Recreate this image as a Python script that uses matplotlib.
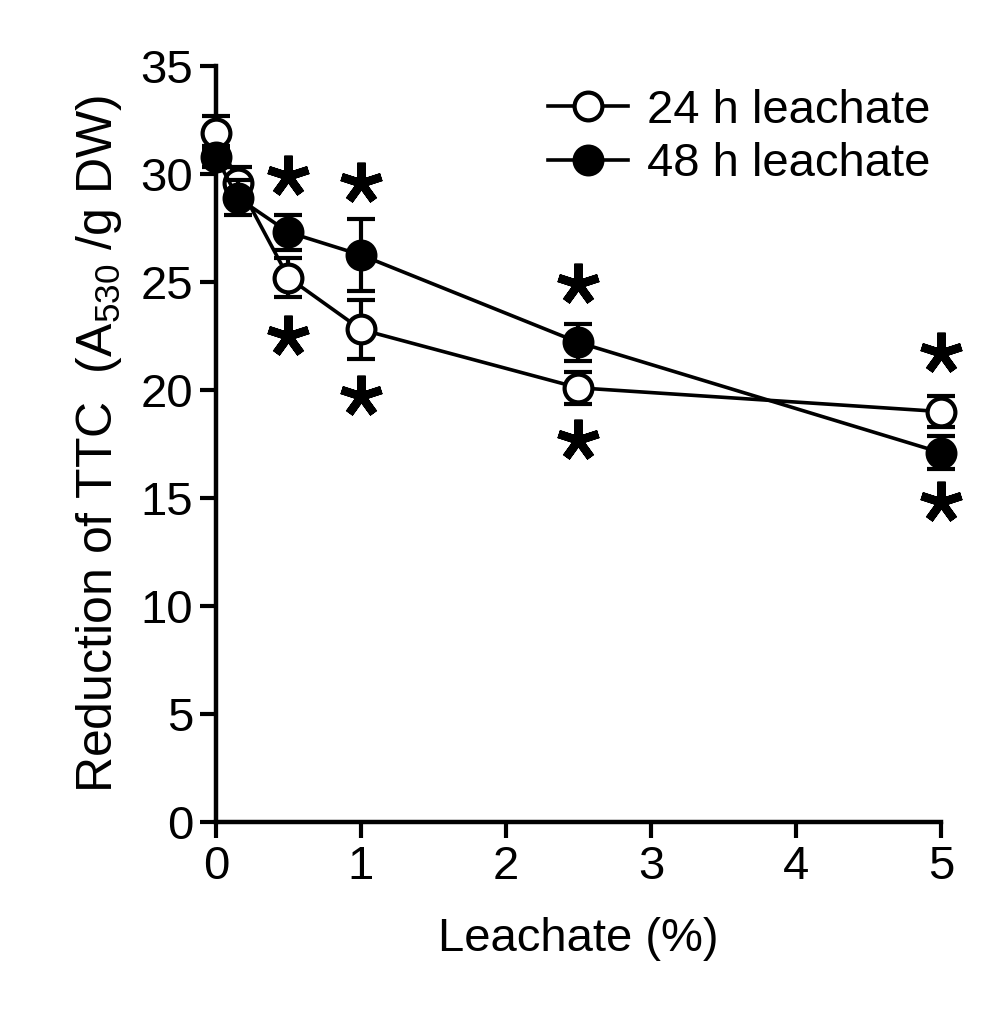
import matplotlib.pyplot as plt
from matplotlib.lines import Line2D

plt.rcParams['font.family'] = ['Liberation Sans', 'DejaVu Sans']
plt.rcParams['mathtext.fontset'] = 'custom'
plt.rcParams['mathtext.rm'] = 'Liberation Sans'
plt.rcParams['mathtext.it'] = 'Liberation Sans'

# data
conc = [0, 0.15, 0.5, 1, 2.5, 5]
h24 = [31.9, 29.6, 25.2, 22.8, 20.1, 19.0]
h24_err = [0.8, 0.7, 0.9, 1.35, 0.75, 0.7]
h48 = [30.8, 28.9, 27.3, 26.25, 22.2, 17.1]
h48_err = [0.5, 0.8, 0.8, 1.65, 0.85, 0.75]

# significance stars (x, y)
star_x = [0.5, 0.5, 1, 1, 2.5, 2.5, 5, 5]
star_y = [29.9, 22.5, 29.6, 19.7, 24.9, 17.7, 21.7, 14.8]

fig = plt.figure(figsize=(9.92, 10.21), dpi=100)
ax = fig.add_axes([0.2177, 0.1949, 0.7309, 0.7405])

common = dict(color='black', lw=2.6, ms=20, mew=3, elinewidth=3,
              capsize=10, capthick=3, clip_on=False)
ax.errorbar(conc, h24, yerr=h24_err, fmt='-o', mfc='white', mec='black',
            zorder=3, **common)
ax.errorbar(conc, h48, yerr=h48_err, fmt='-o', mfc='black', mec='black',
            zorder=4, **common)

ax.plot(star_x, star_y, ls='none', marker=(5, 2, 0), ms=30, mew=6,
        color='black', clip_on=False)

ax.set_xlim(0, 5)
ax.set_ylim(0, 35)
ax.set_xticks(range(6))
ax.set_yticks(range(0, 36, 5))
for s in ['top', 'right']:
    ax.spines[s].set_visible(False)
for s in ['left', 'bottom']:
    ax.spines[s].set_linewidth(3.2)
ax.tick_params(direction='out', length=11.5, width=3, labelsize=34, pad=5)

ax.set_xlabel('Leachate (%)', size=34, labelpad=20)
ax.set_ylabel('Reduction of TTC  (A$_{530}$ /g DW)', size=36, labelpad=12)

handles = [
    Line2D([], [], color='black', lw=2.6, marker='o', ms=20, mew=3,
           mfc='white', mec='black'),
    Line2D([], [], color='black', lw=2.6, marker='o', ms=20, mew=3,
           mfc='black', mec='black'),
]
ax.legend(handles, ['24 h leachate', '48 h leachate'], loc='upper right',
          bbox_to_anchor=(1.011, 0.995), frameon=False, fontsize=34,
          handlelength=1.7, handletextpad=0.4, labelspacing=0.2,
          borderaxespad=0)

plt.savefig('out.png', dpi=100)
